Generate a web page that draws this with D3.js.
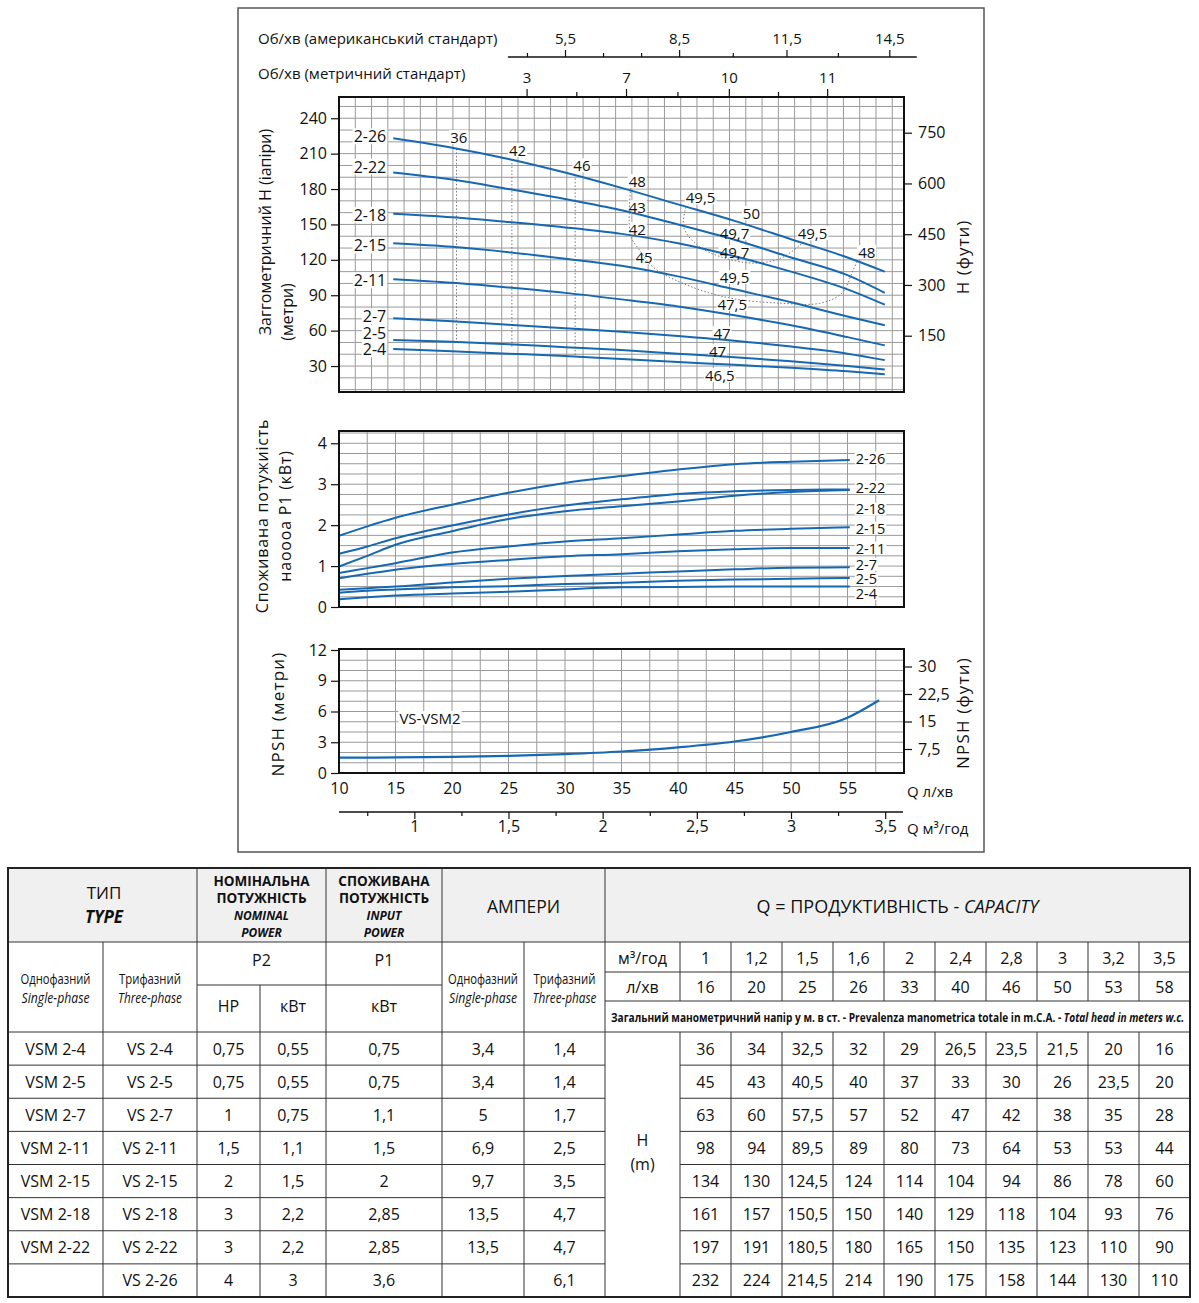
<!DOCTYPE html>
<html>
<head>
<meta charset="utf-8">
<script src="https://cdn.jsdelivr.net/npm/d3@7"></script>
<style>
  body { margin: 0; background: #fff; }
</style>
</head>
<body>
<script>
// ---------- data ----------
const models = ["2-26", "2-22", "2-18", "2-15", "2-11", "2-7", "2-5", "2-4"];

// head curves (Q л/хв -> H м)
const headFlow = [14.8, 20, 25, 30, 35, 40, 45, 50, 55, 58.3];
const head2_26 = [223, 215, 205.5, 194, 181, 167, 153, 137.5, 122, 110];
const head2_22 = [194, 188, 180, 171.5, 162, 150, 137, 122, 107, 92];
const head2_18 = [159, 156, 152, 147.5, 142, 134, 123, 110, 95, 82];
const head2_15 = [134, 131, 126.5, 121, 115, 106, 95, 84, 72, 64.5];
const head2_11 = [103.5, 100.5, 96.5, 92, 86.5, 80.5, 73, 64.5, 54.5, 47.5];
const head2_7 = [70.5, 68, 65, 62, 59, 55.5, 51.5, 46.5, 40.5, 35];
const head2_5 = [52, 50.5, 48.5, 46, 43.5, 40.5, 37.5, 34, 30, 27];
const head2_4 = [44.5, 42.5, 40.5, 38.5, 36, 33.5, 31, 28.5, 25.5, 23];

// power curves (Q л/хв -> P1 кВт)
const powerFlow = [10, 12.5, 15, 20, 25, 30, 35, 40, 45, 50, 55.2];
const power2_26 = [1.74, 1.97, 2.18, 2.5, 2.79, 3.03, 3.2, 3.36, 3.49, 3.55, 3.59];
const power2_22 = [1.3, 1.48, 1.68, 1.99, 2.26, 2.48, 2.63, 2.76, 2.83, 2.86, 2.87];
const power2_18 = [0.99, 1.25, 1.52, 1.85, 2.15, 2.34, 2.46, 2.58, 2.72, 2.81, 2.86];
const power2_15 = [0.83, 0.95, 1.07, 1.33, 1.48, 1.6, 1.68, 1.77, 1.86, 1.91, 1.95];
const power2_11 = [0.7, 0.81, 0.91, 1.05, 1.15, 1.24, 1.29, 1.36, 1.41, 1.44, 1.44];
const power2_7 = [0.42, 0.46, 0.5, 0.6, 0.69, 0.76, 0.81, 0.87, 0.92, 0.96, 0.97];
const power2_5 = [0.35, 0.4, 0.43, 0.48, 0.51, 0.56, 0.59, 0.64, 0.67, 0.69, 0.71];
const power2_4 = [0.19, 0.24, 0.28, 0.33, 0.37, 0.43, 0.48, 0.49, 0.5, 0.5, 0.5];

// NPSH
const npshFlow = [10, 15, 20, 25, 30, 35, 40, 45, 50, 55, 57.8];
const npshVal = [1.5, 1.52, 1.58, 1.68, 1.85, 2.1, 2.5, 3.07, 4.0, 5.4, 7.1];

// efficiency annotations (Q, H)
const effLabels = [
  ["36", 20.6, 224], ["42", 25.8, 213], ["46", 31.5, 200], ["48", 36.4, 186.6],
  ["43", 36.4, 164.6], ["42", 36.4, 146], ["45", 37, 122.3], ["49,5", 42, 173],
  ["50", 46.5, 159.6], ["49,7", 45, 142.6], ["49,7", 45, 126.5], ["49,5", 45, 105.4],
  ["47,5", 44.8, 82.5], ["47", 43.9, 57.9], ["47", 43.5, 42.7], ["46,5", 43.7, 22.4],
  ["49,5", 51.9, 142.6], ["48", 56.7, 126.5]
];
const isoVertQ = [20.4, 25.3, 30.9];
const isoVertTop = [214, 205, 192];
const isoVertBottom = [52, 45, 38];
const isoSmall = [[40.7, 164.6], [40.5, 147.7], [41.7, 132.5], [43.8, 122.5], [46.7, 117.2], [49.1, 121.4], [51, 134.1]];
const isoBig = [[35.8, 180.7], [35.8, 140.9], [36.6, 128.2], [37.8, 113.8], [40.8, 98.6], [44.6, 87.6],
  [49, 83.3], [52.6, 83.3], [54.5, 91.8], [55.5, 111.3], [55.9, 119.8]];

// top rpm scales, tied to Q л/хв
const usRpm = [5.5, 8.5, 11.5, 14.5];
const usFlow = [30, 40.1, 49.6, 58.7];
const usMinor = [4.5, 6.5, 7.5, 10, 13];
const metricRpm = [3, 7, 10, 11];
const metricFlow = [26.6, 35.4, 44.5, 53.2];
const metricMinor = [5, 8.5, 10.5];

// table
const tModels = ["2-4", "2-5", "2-7", "2-11", "2-15", "2-18", "2-22", "2-26"];
const singlePhase = ["VSM 2-4", "VSM 2-5", "VSM 2-7", "VSM 2-11", "VSM 2-15", "VSM 2-18", "VSM 2-22", ""];
const threePhase = ["VS 2-4", "VS 2-5", "VS 2-7", "VS 2-11", "VS 2-15", "VS 2-18", "VS 2-22", "VS 2-26"];
const p2Hp = [0.75, 0.75, 1, 1.5, 2, 3, 3, 4];
const p2Kw = [0.55, 0.55, 0.75, 1.1, 1.5, 2.2, 2.2, 3];
const p1Kw = [0.75, 0.75, 1.1, 1.5, 2, 2.85, 2.85, 3.6];
const amps1 = [3.4, 3.4, 5, 6.9, 9.7, 13.5, 13.5, null];
const amps3 = [1.4, 1.4, 1.7, 2.5, 3.5, 4.7, 4.7, 6.1];
const capM3 = [1, 1.2, 1.5, 1.6, 2, 2.4, 2.8, 3, 3.2, 3.5];
const capL = [16, 20, 25, 26, 33, 40, 46, 50, 53, 58];
const tableHeads = [
  [36, 34, 32.5, 32, 29, 26.5, 23.5, 21.5, 20, 16],
  [45, 43, 40.5, 40, 37, 33, 30, 26, 23.5, 20],
  [63, 60, 57.5, 57, 52, 47, 42, 38, 35, 28],
  [98, 94, 89.5, 89, 80, 73, 64, 53, 53, 44],
  [134, 130, 124.5, 124, 114, 104, 94, 86, 78, 60],
  [161, 157, 150.5, 150, 140, 129, 118, 104, 93, 76],
  [197, 191, 180.5, 180, 165, 150, 135, 123, 110, 90],
  [232, 224, 214.5, 214, 190, 175, 158, 144, 130, 110]
];

// ---------- setup ----------
const FONT = '"Open Sans", "DejaVu Sans", sans-serif';
const BLUE = "#1668b3";
const GRID = "#9a9a9a";
const fmt = d3.formatLocale({decimal: ",", thousands: " ", grouping: [3], currency: ["", ""]}).format("~g");

const svg = d3.select("body").append("svg")
  .attr("width", 1199).attr("height", 1303)
  .style("font-family", FONT);

const headSeries = [head2_26, head2_22, head2_18, head2_15, head2_11, head2_7, head2_5, head2_4];
const powerSeries = [power2_26, power2_22, power2_18, power2_15, power2_11, power2_7, power2_5, power2_4];

const x = d3.scaleLinear().domain([10, 60]).range([339, 904]);
const plots = {
  head: {top: 97, bottom: 392},
  power: {top: 431, bottom: 607},
  npsh: {top: 649, bottom: 773}
};
const headY = d3.scaleLinear().domain([8, 258]).range([392, 97]);
const feetY = d3.scaleLinear().domain([150, 750]).range([335.7, 132.7]);
const powerY = d3.scaleLinear().domain([0, 4.3]).range([607, 431]);
const npshY = d3.scaleLinear().domain([0, 12]).range([773, 650]);
const npshFtY = d3.scaleLinear().domain([0, 30]).range([776.5, 666.5]);

// outer frame of chart block
svg.append("rect").attr("x", 238).attr("y", 8).attr("width", 746).attr("height", 844)
  .attr("fill", "none").attr("stroke", "#555").attr("stroke-width", 1.5);

function grid(p, xs, ys, yS) {
  const g = svg.append("g").attr("stroke", GRID).attr("stroke-width", 1);
  g.selectAll(".v").data(xs).join("line")
    .attr("x1", d => x(d)).attr("x2", d => x(d)).attr("y1", p.top).attr("y2", p.bottom);
  g.selectAll(".h").data(ys).join("line")
    .attr("x1", x(10)).attr("x2", 904).attr("y1", d => yS(d)).attr("y2", d => yS(d));
}
function frame(p) {
  svg.append("rect").attr("x", x(10)).attr("y", p.top).attr("width", 904 - x(10)).attr("height", p.bottom - p.top)
    .attr("fill", "none").attr("stroke", "#111").attr("stroke-width", 2);
}
function styleAxis(g, size) {
  g.attr("font-size", size).attr("font-family", FONT);
  g.select(".domain").remove();
  g.selectAll("line").attr("stroke", "#111").attr("stroke-width", 1.2);
  g.selectAll("text").attr("fill", "#111");
}
// text with a white patch behind it; the patch may go into a separate (lower) layer
function label(g, text, px, py, anchor, size, bgLayer) {
  const t = g.append("text").attr("x", px).attr("y", py).attr("text-anchor", anchor)
    .attr("dominant-baseline", "central").attr("font-size", size).attr("fill", "#111").text(text);
  const b = t.node().getBBox();
  (bgLayer || g).append("rect").attr("x", b.x - 1).attr("y", b.y + 3)
    .attr("width", b.width + 2).attr("height", b.height - 6).attr("fill", "#fff");
  if (!bgLayer) t.raise();
  return t;
}
function vTitle(text, px, py, size, spacing) {
  svg.append("text").attr("transform", `translate(${px},${py}) rotate(-90)`)
    .attr("text-anchor", "middle").attr("dominant-baseline", "central")
    .attr("font-size", size).attr("letter-spacing", spacing || 0).attr("fill", "#111").text(text);
}

// ---------- head chart ----------
grid(plots.head, d3.range(10 + 1.44, 60, 1.44), d3.range(10, 258, 10), headY);
const effBg = svg.append("g");

const headLine = d3.line().x(d => x(d[0])).y(d => headY(d[1])).curve(d3.curveMonotoneX);
const dotted = svg.append("g").attr("fill", "none").attr("stroke", "#777").attr("stroke-width", 1)
  .attr("stroke-dasharray", "1.5,2");
dotted.selectAll("line").data(isoVertQ).join("line")
  .attr("x1", d => x(d)).attr("x2", d => x(d))
  .attr("y1", (d, i) => headY(isoVertTop[i])).attr("y2", (d, i) => headY(isoVertBottom[i]));
const isoLine = d3.line().x(d => x(d[0])).y(d => headY(d[1])).curve(d3.curveCatmullRom);
dotted.append("path").attr("d", isoLine(isoSmall));
dotted.append("path").attr("d", isoLine(isoBig));

svg.append("g").selectAll("path").data(headSeries).join("path")
  .attr("d", s => headLine(s.map((v, i) => [headFlow[i], v])))
  .attr("fill", "none").attr("stroke", BLUE).attr("stroke-width", 2);

const headLabelNudge = [-2, -6, 1, 2, 1, -2, -7, 0];
const hl = svg.append("g");
models.forEach((m, i) => label(hl, m, x(headFlow[0]) - 7, headY(headSeries[i][0]) + headLabelNudge[i], "end", 16));
const el = svg.append("g");
effLabels.forEach(d => label(el, d[0], x(d[1]), headY(d[2]), "middle", 15, effBg));

frame(plots.head);
styleAxis(svg.append("g").attr("transform", "translate(339,0)")
  .call(d3.axisLeft(headY).tickValues([30, 60, 90, 120, 150, 180, 210, 240]).tickSize(8).tickPadding(4)), 16);
styleAxis(svg.append("g").attr("transform", "translate(904,0)")
  .call(d3.axisRight(feetY).tickValues([150, 300, 450, 600, 750]).tickSize(8).tickPadding(6)), 16);

vTitle("Заггометричний Н (іапіри)", 265, 232, 16);
vTitle("(метри)", 287, 312, 16);
vTitle("Н (фути)", 962, 257, 17, 1);

// top rpm scales
const usScale = d3.scaleLinear().domain(usRpm).range(usFlow.map(x));
const metricScale = d3.scaleLinear().domain(metricRpm).range(metricFlow.map(x));
svg.append("line").attr("x1", usScale(4)).attr("x2", usScale(15.3)).attr("y1", 57).attr("y2", 57)
  .attr("stroke", "#111").attr("stroke-width", 1.3);
styleAxis(svg.append("g").attr("transform", "translate(0,57)")
  .call(d3.axisTop(usScale).tickValues(usRpm).tickSize(7).tickPadding(6).tickFormat(fmt)), 15);
styleAxis(svg.append("g").attr("transform", "translate(0,57)")
  .call(d3.axisTop(usScale).tickValues(usMinor).tickSize(4).tickFormat("")), 15);
styleAxis(svg.append("g").attr("transform", "translate(0,97)")
  .call(d3.axisTop(metricScale).tickValues(metricRpm).tickSize(8).tickPadding(6).tickFormat(fmt)), 15);
styleAxis(svg.append("g").attr("transform", "translate(0,97)")
  .call(d3.axisTop(metricScale).tickValues(metricMinor).tickSize(5).tickFormat("")), 15);
svg.append("text").attr("x", 258).attr("y", 38).attr("dominant-baseline", "central")
  .attr("font-size", 15).attr("fill", "#111").text("Об/хв (американський стандарт)");
svg.append("text").attr("x", 258).attr("y", 73).attr("dominant-baseline", "central")
  .attr("font-size", 15).attr("fill", "#111").text("Об/хв (метричний стандарт)");

// ---------- power chart ----------
grid(plots.power, d3.range(12.5, 60, 2.5), d3.range(0.25, 4.3, 0.25), powerY);
const powerLine = d3.line().x(d => x(d[0])).y(d => powerY(d[1])).curve(d3.curveMonotoneX);
svg.append("g").selectAll("path").data(powerSeries).join("path")
  .attr("d", s => powerLine(s.map((v, i) => [powerFlow[i], v])))
  .attr("fill", "none").attr("stroke", BLUE).attr("stroke-width", 2);
frame(plots.power);
const powerLabelNudge = [-2, -2, 19, 1, 0, -3, 1, 7];
const pl = svg.append("g");
models.forEach((m, i) => label(pl, m, x(powerFlow[powerFlow.length - 1]) + 6,
  powerY(powerSeries[i][powerSeries[i].length - 1]) + powerLabelNudge[i], "start", 14.5));
styleAxis(svg.append("g").attr("transform", "translate(339,0)")
  .call(d3.axisLeft(powerY).tickValues([0, 1, 2, 3, 4]).tickSize(8).tickPadding(4).tickFormat(d3.format("d"))), 16);
vTitle("Споживана потужиість", 262, 516, 16, 0.8);
vTitle("наоооа P1 (кВт)", 285, 516, 16, 0.8);

// ---------- NPSH chart ----------
grid(plots.npsh, d3.range(12.5, 60, 2.5), d3.range(1, 12, 1), npshY);
const npshLine = d3.line().x(d => x(d[0])).y(d => npshY(d[1])).curve(d3.curveMonotoneX);
svg.append("path").attr("d", npshLine(npshVal.map((v, i) => [npshFlow[i], v])))
  .attr("fill", "none").attr("stroke", BLUE).attr("stroke-width", 2.2);
frame(plots.npsh);
label(svg.append("g"), "VS-VSM2", 430, 718, "middle", 15);
styleAxis(svg.append("g").attr("transform", "translate(339,0)")
  .call(d3.axisLeft(npshY).tickValues([0, 3, 6, 9, 12]).tickSize(8).tickPadding(4)), 16);
styleAxis(svg.append("g").attr("transform", "translate(904,0)")
  .call(d3.axisRight(npshFtY).tickValues([7.5, 15, 22.5, 30]).tickSize(8).tickPadding(6).tickFormat(fmt)), 16);
vTitle("NPSH (метри)", 277, 714, 17, 1.2);
vTitle("NPSH (фути)", 962, 713, 17, 1.2);

// bottom axes
styleAxis(svg.append("g").attr("transform", "translate(0,773)")
  .call(d3.axisBottom(x).tickValues(d3.range(10, 56, 5)).tickSize(0).tickPadding(10)), 16);
const m3 = d3.scaleLinear().domain([0.6, 3.6]).range(x.range());
svg.append("line").attr("x1", x(10)).attr("x2", 903).attr("y1", 812).attr("y2", 812)
  .attr("stroke", "#111").attr("stroke-width", 1.3);
styleAxis(svg.append("g").attr("transform", "translate(0,812)")
  .call(d3.axisBottom(m3).tickValues([1, 1.5, 2, 2.5, 3, 3.5]).tickSize(7).tickPadding(2).tickFormat(fmt)), 16);
styleAxis(svg.append("g").attr("transform", "translate(0,812)")
  .call(d3.axisBottom(m3).tickValues([0.75, 1.25, 1.75, 2.25, 2.75, 3.25]).tickSize(4).tickFormat("")), 16);
svg.append("text").attr("x", 907).attr("y", 791).attr("dominant-baseline", "central")
  .attr("font-size", 15).attr("fill", "#111").text("Q л/хв");
svg.append("text").attr("x", 907).attr("y", 828).attr("dominant-baseline", "central")
  .attr("font-size", 15).attr("fill", "#111").text("Q м³/год");

// ---------- table ----------
const tb = svg.append("g");
const TL = 8, TR = 1190, TT = 868, TB = 1297;
const capX = d3.scaleBand().domain(d3.range(10)).range([680, TR]);
const rowY = d3.scaleBand().domain(tModels).range([1032, TB]);

tb.append("rect").attr("x", TL).attr("y", TT).attr("width", TR - TL).attr("height", 942 - TT).attr("fill", "#f0f0f0");

const lines = tb.append("g").attr("stroke", "#333").attr("stroke-width", 1);
const hline = (x1, x2, y) => lines.append("line").attr("x1", x1).attr("x2", x2).attr("y1", y).attr("y2", y);
const vline = (xx, y1, y2) => lines.append("line").attr("x1", xx).attr("x2", xx).attr("y1", y1).attr("y2", y2);

hline(TL, TR, 942);
hline(197, 442, 985);
hline(605, TR, 972);
hline(605, TR, 1001);
hline(TL, TR, 1032);
tModels.slice(1).forEach(m => { hline(TL, 605, rowY(m)); hline(680, TR, rowY(m)); });
[197, 326, 442, 605].forEach(v => vline(v, TT, TB));
vline(103, 942, TB);
vline(260, 985, TB);
vline(524, 942, TB);
vline(680, 942, 1001);
vline(680, 1032, TB);
d3.range(1, 10).forEach(i => { vline(capX(i), 942, 1001); vline(capX(i), 1032, TB); });
tb.append("rect").attr("x", TL).attr("y", TT).attr("width", TR - TL).attr("height", TB - TT)
  .attr("fill", "none").attr("stroke", "#222").attr("stroke-width", 2);

function ttext(t, px, py, size, opts, parent) {
  const o = opts || {};
  const e = (parent || tb).append("text").attr("x", px).attr("y", py).attr("text-anchor", "middle")
    .attr("dominant-baseline", "central").attr("font-size", size).attr("fill", "#111")
    .attr("font-weight", o.weight || 400)
    .attr("font-style", o.italic ? "italic" : "normal").text(t);
  if (o.fit) {
    const w = e.node().getComputedTextLength();
    if (w > o.fit) e.attr("textLength", o.fit).attr("lengthAdjust", "spacingAndGlyphs");
  }
  return e;
}

// header
ttext("ТИП", 104, 892, 17);
ttext("TYPE", 104, 916, 17, {italic: true, weight: 700});
ttext("НОМІНАЛЬНА", 261.5, 881, 13.5, {weight: 700});
ttext("ПОТУЖНІСТЬ", 261.5, 898, 13.5, {weight: 700});
ttext("NOMINAL", 261.5, 915, 12, {weight: 700, italic: true});
ttext("POWER", 261.5, 932, 12, {weight: 700, italic: true});
ttext("СПОЖИВАНА", 384, 881, 13.5, {weight: 700});
ttext("ПОТУЖНІСТЬ", 384, 898, 13.5, {weight: 700});
ttext("INPUT", 384, 915, 12, {weight: 700, italic: true});
ttext("POWER", 384, 932, 12, {weight: 700, italic: true});
ttext("АМПЕРИ", 523.5, 906, 17.5);
const qt = ttext("Q = ПРОДУКТИВНІСТЬ - ", 897.5, 906, 18);
qt.append("tspan").attr("font-style", "italic").text("CAPACITY");

[[55.5, "Однофазний", "Single-phase", 70, 68], [150, "Трифазний", "Three-phase", 62, 64],
 [483, "Однофазний", "Single-phase", 70, 68], [564.5, "Трифазний", "Three-phase", 62, 64]].forEach(d => {
  ttext(d[1], d[0], 978, 15, {fit: d[3]});
  ttext(d[2], d[0], 997, 15, {italic: true, fit: d[4]});
});
ttext("P2", 261.5, 960, 16);
ttext("P1", 384, 960, 16);
ttext("HP", 228.5, 1006, 16);
ttext("кВт", 293, 1006, 16);
ttext("кВт", 384, 1006, 16);
ttext("м³/год", 642.5, 958, 16);
ttext("л/хв", 642.5, 987, 16);
capM3.forEach((v, i) => ttext(fmt(v), capX(i) + capX.bandwidth() / 2, 958, 16));
capL.forEach((v, i) => ttext(fmt(v), capX(i) + capX.bandwidth() / 2, 987, 16));

// long caption row squeezed horizontally to the row width
const subG = tb.append("g");
const sub = ttext("Загальний манометричний напір у м. в ст. - Prevalenza manometrica totale in m.C.A. - ", 0, 0, 11.5,
  {weight: 700}, subG);
sub.attr("text-anchor", "start");
sub.append("tspan").attr("font-style", "italic").text("Total head in meters w.c.");
const subW = sub.node().getComputedTextLength();
subG.attr("transform", `translate(611,1017) scale(${Math.min(1, 574 / subW)},1)`);

ttext("H", 642.5, 1140, 16);
ttext("(m)", 642.5, 1164, 16);

// body rows
tModels.forEach((m, r) => {
  const cy = rowY(m) + rowY.bandwidth() / 2;
  ttext(singlePhase[r], 55.5, cy, 16, {weight: 500});
  ttext(threePhase[r], 150, cy, 16, {weight: 500});
  ttext(fmt(p2Hp[r]), 228.5, cy, 16, {weight: 500});
  ttext(fmt(p2Kw[r]), 293, cy, 16, {weight: 500});
  ttext(fmt(p1Kw[r]), 384, cy, 16, {weight: 500});
  ttext(amps1[r] == null ? "" : fmt(amps1[r]), 483, cy, 16, {weight: 500});
  ttext(fmt(amps3[r]), 564.5, cy, 16, {weight: 500});
  tableHeads[r].forEach((v, i) => ttext(fmt(v), capX(i) + capX.bandwidth() / 2, cy, 16, {weight: 500}));
});
</script>
</body>
</html>
